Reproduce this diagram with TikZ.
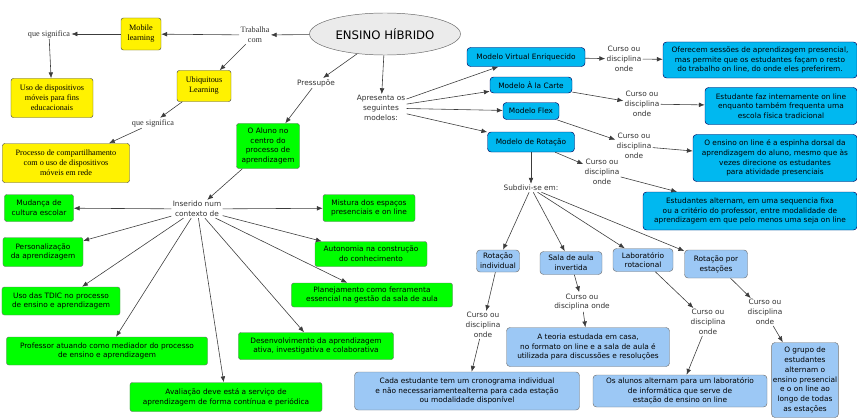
\documentclass[tikz,border=0pt]{standalone}
\usepackage{fontspec}
\usepackage{tikz}
\usetikzlibrary{shapes.geometric, arrows.meta}

\newfontfamily\mapsans{DejaVu Sans}
\newfontfamily\mapserif{Liberation Serif}
\newcommand{\mapfont}{\mapsans\fontsize{6.3}{8.3}\selectfont}
\newcommand{\yelfont}{\mapserif\fontsize{7}{8.6}\selectfont}

\definecolor{modelblue}{RGB}{0,184,240}
\definecolor{subblue}{RGB}{156,200,245}
\definecolor{linegray}{RGB}{60,60,60}

\tikzset{
  yellowbox/.style={draw=black!70, fill=yellow, rounded corners=2pt, align=center, font=\yelfont, inner sep=1pt},
  greenbox/.style={draw=black!55, fill=green, rounded corners=2pt, align=center, font=\mapfont, inner sep=1pt},
  modelbox/.style={draw=blue!35!black, fill=modelblue, rounded corners=3pt, align=center, font=\mapfont, inner sep=1pt},
  subbox/.style={draw=black!55, fill=subblue, rounded corners=3pt, align=center, font=\mapfont, inner sep=1pt},
  linkword/.style={align=center, font=\mapfont, text=black!80, inner sep=1pt},
  yellink/.style={align=center, font=\yelfont, text=black!80, inner sep=1pt},
  conn/.style={->, draw=linegray, line width=0.5pt}
}

\begin{document}
\begin{tikzpicture}[x=0.03cm, y=-0.03cm, >={Latex[length=5pt,width=4pt]}]

\useasboundingbox (0,0) rectangle (857,420);

% Central concept
\node[ellipse, draw=black!60, fill=black!8, minimum width=3.75cm, minimum height=1.26cm,
  font=\mapsans\fontsize{10}{12}\selectfont] (ensino) at (385,34) {ENSINO HÍBRIDO};

% Left branch: Trabalha com
\node[yellink] (trabalha) at (255,35) {Trabalha\\com};
\node[yellowbox, minimum width=1.2cm, minimum height=0.96cm] (mobile) at (141,34) {Mobile\\learning};
\node[yellowbox, minimum width=1.62cm, minimum height=0.93cm] (ubiq) at (204,86) {Ubiquitous\\Learning};
\node[yellink] (sig1) at (49,34) {que significa};
\node[yellowbox, minimum width=2.46cm, minimum height=1.17cm] (usodisp) at (52,98) {Uso de dispositivos\\móveis para fins\\educacionais};
\node[yellink] (sig2) at (153,123) {que significa};
\node[yellowbox, minimum width=3.81cm, minimum height=1.17cm] (processo) at (66,163) {Processo de compartilhamento\\com o uso de dispositivos\\móveis em rede};

\draw[conn] (ensino) -- (trabalha);
\draw[conn] (trabalha) -- (mobile);
\draw[conn] (trabalha) -- (ubiq);
\draw[conn] (mobile) -- (sig1);
\draw[conn] (sig1) -- (usodisp);
\draw[conn] (ubiq) -- (sig2);
\draw[conn] (sig2) -- (processo);

% Middle branch: Pressupoe
\node[linkword] (pressupoe) at (316,83) {Pressupõe};
\node[greenbox, minimum width=1.89cm, minimum height=1.35cm] (aluno) at (268,146) {O Aluno no\\centro do\\processo de\\aprendizagem};
\node[linkword] (inserido) at (197,209) {Inserido num\\contexto de};

\draw[conn] (ensino) -- (pressupoe);
\draw[conn] (pressupoe) -- (aluno);
\draw[conn] (aluno) -- (inserido);

% Context boxes
\node[greenbox, minimum width=2.07cm, minimum height=0.81cm] (mudanca) at (39,208) {Mudança de\\cultura escolar};
\node[greenbox, minimum width=2.4cm, minimum height=0.87cm] (person) at (43,252) {Personalização\\da aprendizagem};
\node[greenbox, minimum width=3.54cm, minimum height=0.84cm] (tdic) at (61,301) {Uso das TDIC no processo\\de ensino e aprendizagem};
\node[greenbox, minimum width=6.03cm, minimum height=0.84cm] (professor) at (107,351) {Professor atuando como mediador do processo\\de ensino e aprendizagem};
\node[greenbox, minimum width=5.76cm, minimum height=0.87cm] (avaliacao) at (226,397) {Avaliação deve está a serviço de\\aprendizagem de forma contínua e periódica};
\node[greenbox, minimum width=2.76cm, minimum height=0.81cm] (mistura) at (369,208) {Mistura dos espaços\\presenciais e on line};
\node[greenbox, minimum width=3.36cm, minimum height=0.75cm] (autonomia) at (371,254) {Autonomia na construção\\do conhecimento};
\node[greenbox, minimum width=4.83cm, minimum height=0.72cm] (planej) at (372,295) {Planejamento como ferramenta\\essencial na gestão da sala de aula};
\node[greenbox, minimum width=4.65cm, minimum height=0.81cm] (desenv) at (316,346) {Desenvolvimento da aprendizagem\\ativa, investigativa e colaborativa};

\foreach \target in {mudanca, person, tdic, professor, avaliacao, mistura, autonomia, planej, desenv}
  \draw[conn] (inserido) -- (\target);

% Right branch: models
\node[linkword] (apresenta) at (381,108) {Apresenta os\\seguintes\\modelos:};
\node[modelbox, minimum width=3.54cm, minimum height=0.57cm] (virtual) at (526,57) {Modelo Virtual Enriquecido};
\node[modelbox, minimum width=2.46cm, minimum height=0.48cm] (carte) at (531,85) {Modelo À la Carte};
\node[modelbox, minimum width=1.68cm, minimum height=0.51cm] (flex) at (531,111) {Modelo Flex};
\node[modelbox, minimum width=2.61cm, minimum height=0.6cm] (rotacao) at (531,142) {Modelo de Rotação};

\draw[conn] (ensino) -- (apresenta);
\foreach \target in {virtual, carte, flex, rotacao}
  \draw[conn] (apresenta) -- (\target);

% Model descriptions
\node[linkword] (onde1) at (624,59) {Curso ou\\disciplina\\onde};
\node[linkword] (onde2) at (642,104) {Curso ou\\disciplina\\onde};
\node[linkword] (onde3) at (634,146) {Curso ou\\disciplina\\onde};
\node[linkword] (onde4) at (602,172) {Curso ou\\disciplina\\onde};

\node[modelbox, minimum width=5.82cm, minimum height=1.08cm] (oferecem) at (760,60) {Oferecem sessões de aprendizagem presencial,\\mas permite que os estudantes façam o resto\\do trabalho on line, do onde eles preferirem.};
\node[modelbox, minimum width=4.56cm, minimum height=1.11cm] (estudante) at (781,106) {Estudante faz internamente on line\\enquanto também frequenta uma\\escola física tradicional};
\node[modelbox, minimum width=4.92cm, minimum height=1.41cm] (espinha) at (775,158) {O ensino on line é a espinha dorsal da\\aprendizagem do aluno, mesmo que às\\vezes direcione os estudantes\\para atividade presenciais};
\node[modelbox, minimum width=6.42cm, minimum height=1.14cm] (alternam) at (750,211) {Estudantes alternam, em uma sequencia fixa\\ou a critério do professor, entre modalidade de\\aprendizagem em que pelo menos uma seja on line};

\draw[conn] (virtual) -- (onde1);
\draw[conn] (onde1) -- (oferecem);
\draw[conn] (carte) -- (onde2);
\draw[conn] (onde2) -- (estudante);
\draw[conn] (flex) -- (onde3);
\draw[conn] (onde3) -- (espinha);
\draw[conn] (rotacao) -- (onde4);
\draw[conn] (onde4) -- (alternam);

% Rotation sub-models
\node[linkword] (subdiv) at (531,188) {Subdivi-se em:};
\node[subbox, minimum width=1.29cm, minimum height=0.66cm] (rind) at (498,261) {Rotação\\individual};
\node[subbox, minimum width=1.86cm, minimum height=0.69cm] (sala) at (571,263) {Sala de aula\\invertida};
\node[subbox, minimum width=1.8cm, minimum height=0.69cm] (lab) at (643,260) {Laboratório\\rotacional};
\node[subbox, minimum width=1.89cm, minimum height=0.84cm] (estacoes) at (716,264) {Rotação por\\estações};

\draw[conn] (rotacao) -- (subdiv);
\foreach \target in {rind, sala, lab, estacoes}
  \draw[conn] (subdiv) -- (\target);

\node[linkword] (onde5) at (483,325) {Curso ou\\disciplina\\onde};
\node[linkword] (onde6) at (582,302) {Curso ou\\disciplina onde};
\node[linkword] (onde7) at (708,322) {Curso ou\\disciplina\\onde};
\node[linkword] (onde8) at (765,312) {Curso ou\\disciplina\\onde};

\node[subbox, minimum width=6.75cm, minimum height=1.14cm] (cada) at (467,391) {Cada estudante tem um cronograma individual\\e não necessariamentealterna para cada estação\\ou modalidade disponível};
\node[subbox, minimum width=4.89cm, minimum height=1.17cm] (teoria) at (588,347) {A teoria estudada em casa,\\no formato on line e a sala de aula é\\utilizada para discussões e resoluções};
\node[subbox, minimum width=5.22cm, minimum height=0.96cm] (alunos) at (680,391) {Os alunos alternam para um laboratório\\de informática que serve de\\estação de ensino on line};
\node[subbox, minimum width=1.68cm, minimum height=2.25cm] (grupo) at (805,380) {O grupo de\\estudantes\\alternam o\\ensino presencial\\e o on line ao\\longo de todas\\as estações};

\draw[conn] (rind) -- (onde5);
\draw[conn] (onde5) -- (cada);
\draw[conn] (sala) -- (onde6);
\draw[conn] (onde6) -- (teoria);
\draw[conn] (lab) -- (onde7);
\draw[conn] (onde7) -- (alunos);
\draw[conn] (estacoes) -- (onde8);
\draw[conn] (onde8) -- (grupo);

\end{tikzpicture}
\end{document}
